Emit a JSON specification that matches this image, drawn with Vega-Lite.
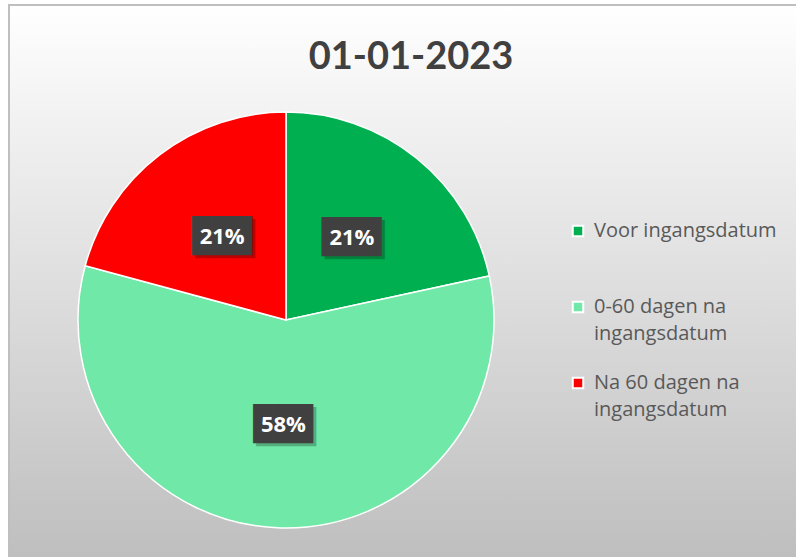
{
  "$schema": "https://vega.github.io/schema/vega-lite/v6.json",
  "autosize": "none",
  "width": 792,
  "height": 556,
  "padding": {"left": 9, "top": 5, "right": 0, "bottom": 0},
  "background": "#ffffff",
  "view": {
    "fill": {"gradient": "linear", "x1": 0, "y1": 0, "x2": 0, "y2": 1,
      "stops": [{"offset": 0, "color": "#ffffff"}, {"offset": 1, "color": "#bebebe"}]},
    "stroke": "#bfbfbf",
    "strokeWidth": 2
  },
  "title": {
    "text": "01-01-2023",
    "font": "Lato",
    "fontSize": 38,
    "fontWeight": "bold",
    "color": "#404040",
    "anchor": "middle",
    "frame": "group",
    "offset": -72,
    "dx": 6
  },
  "data": {
    "values": [
      {"cat": "Voor ingangsdatum", "v": 21.6, "o": 1, "label": "21%"},
      {"cat": "0-60 dagen na ingangsdatum", "v": 57.6, "o": 2, "label": "58%"},
      {"cat": "Na 60 dagen na ingangsdatum", "v": 20.8, "o": 3, "label": "21%"}
    ]
  },
  "encoding": {
    "theta": {"field": "v", "type": "quantitative", "stack": true},
    "order": {"field": "o", "type": "quantitative"},
    "detail": {"field": "cat", "type": "nominal"}
  },
  "layer": [
    {
      "mark": {"type": "arc", "outerRadius": 208, "x": 277, "y": 315, "stroke": "#ffffff", "strokeWidth": 1.5},
      "encoding": {
        "color": {
          "field": "cat", "type": "nominal",
          "scale": {
            "domain": ["Voor ingangsdatum", "0-60 dagen na ingangsdatum", "Na 60 dagen na ingangsdatum"],
            "range": ["#00b050", "#70e8a7", "#ff0000"]
          },
          "legend": {
            "title": null,
            "orient": "none",
            "legendX": 559,
            "legendY": 216,
            "padding": 0,
            "symbolType": "square",
            "symbolSize": 110,
            "symbolStrokeColor": "#ffffff",
            "symbolStrokeWidth": 2,
            "symbolOpacity": 1,
            "labelFont": "Open Sans",
            "labelFontSize": 20,
            "labelColor": "#595959",
            "labelLimit": 300,
            "labelOffset": 6,
            "rowPadding": 29,
            "labelExpr": "datum.value == '0-60 dagen na ingangsdatum' ? ['0-60 dagen na', 'ingangsdatum'] : datum.value == 'Na 60 dagen na ingangsdatum' ? ['Na 60 dagen na', 'ingangsdatum'] : [datum.label, '']",
            "encoding": {"labels": {"lineHeight": {"value": 27}}}
          }
        }
      }
    },
    {
      "mark": {"type": "text", "text": "███", "font": "DejaVu Sans Mono", "fontSize": 33, "radius": 105, "x": 277, "y": 315, "dx": 3, "dy": 3, "fill": "#000000", "opacity": 0.25, "baseline": "middle", "align": "center"}
    },
    {
      "mark": {"type": "text", "text": "███", "font": "DejaVu Sans Mono", "fontSize": 33, "radius": 105, "x": 277, "y": 315, "fill": "#404040", "baseline": "middle", "align": "center"}
    },
    {
      "mark": {"type": "text", "radius": 105, "x": 277, "y": 315, "fill": "#ffffff", "font": "Open Sans", "fontWeight": "bold", "fontSize": 22, "baseline": "middle", "align": "center"},
      "encoding": {"text": {"field": "label", "type": "nominal"}}
    }
  ]
}
